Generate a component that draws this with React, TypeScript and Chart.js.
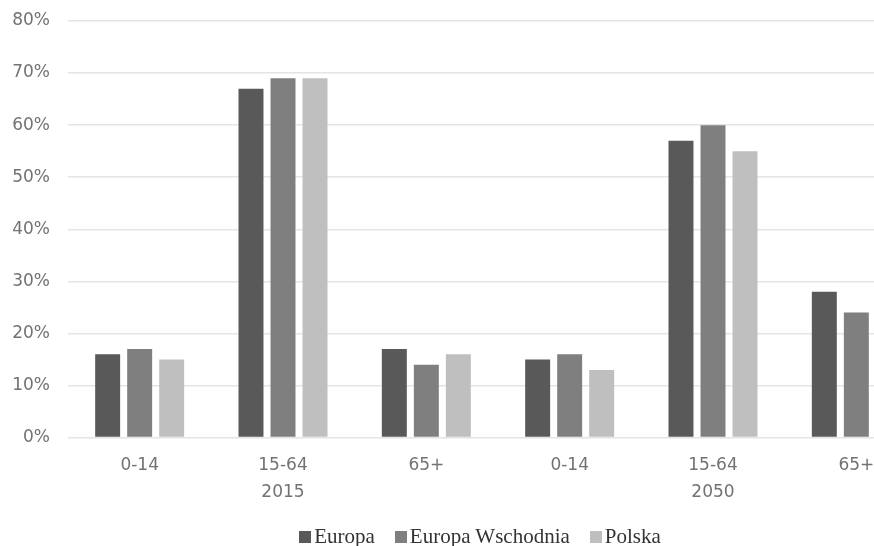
import React, { useEffect, useRef } from "react";
import { Chart, registerables } from "chart.js";

Chart.register(...registerables);

// Age groups for 2015 and 2050 (second line carries the year)
const categories: string[][] = [["0-14"], ["15-64", "2015"], ["65+"], ["0-14"], ["15-64", "2050"], ["65+"]];

// Share of population in each age group, in percent
const europa = [16, 67, 17, 15, 57, 28];
const europaWschodnia = [17, 69, 14, 16, 60, 24];
const polska: (number | null)[] = [15, 69, 16, 13, 55, null];

const seriesNames = ["Europa", "Europa Wschodnia", "Polska"];
const seriesColors = ["#595959", "#7f7f7f", "#bfbfbf"];

const yTicks = [0, 10, 20, 30, 40, 50, 60, 70, 80];

export default function App() {
  const canvasRef = useRef<HTMLCanvasElement | null>(null);

  useEffect(() => {
    if (!canvasRef.current) return;
    document.body.style.margin = "0";
    const chart = new Chart(canvasRef.current, {
      type: "bar",
      data: {
        labels: categories,
        datasets: [
          { label: seriesNames[0], data: europa, backgroundColor: seriesColors[0] },
          { label: seriesNames[1], data: europaWschodnia, backgroundColor: seriesColors[1] },
          { label: seriesNames[2], data: polska, backgroundColor: seriesColors[2] },
        ],
      },
      options: {
        animation: false,
        responsive: false,
        maintainAspectRatio: false,
        layout: { padding: { top: 6, right: 20, left: 0, bottom: 34 } },
        datasets: {
          bar: { categoryPercentage: 0.67, barPercentage: 0.78 },
        },
        plugins: {
          legend: { display: false },
          tooltip: { enabled: false },
        },
        scales: {
          x: {
            grid: { display: false },
            border: { display: false },
            ticks: {
              color: "#727272",
              font: { family: "'DejaVu Sans', sans-serif", size: 17, lineHeight: 1.6 },
              padding: 6,
              maxRotation: 0,
            },
          },
          y: {
            min: 0,
            max: 80,
            afterBuildTicks: (axis: any) => {
              axis.ticks = yTicks.map((v) => ({ value: v }));
            },
            afterFit: (axis: any) => {
              // fixed axis width and top inset for the value labels
              axis.width = 68;
              axis.paddingTop = 21;
            },
            grid: { color: "#e4e4e4", lineWidth: 1.5, drawTicks: false },
            border: { display: false },
            ticks: {
              color: "#727272",
              font: { family: "'DejaVu Sans', sans-serif", size: 17 },
              padding: 18,
              callback: (v: any) => v + "%",
            },
          },
        },
      },
    });
    return () => chart.destroy();
  }, []);

  return (
    <div style={{ position: "fixed", left: 0, top: 0, width: 874, height: 546, overflow: "hidden", background: "#ffffff" }}>
      <canvas ref={canvasRef} width={948} height={546} style={{ display: "block", width: 948, height: 546 }} />
      <div
        style={{
          position: "absolute",
          left: 0,
          width: 960,
          top: 524,
          display: "flex",
          justifyContent: "center",
          gap: 20,
          fontFamily: "'Liberation Serif', 'DejaVu Serif', serif",
          fontSize: 21,
          lineHeight: "24px",
          color: "#333333",
        }}
      >
        {seriesNames.map((name, i) => (
          <div key={name} style={{ display: "flex", alignItems: "baseline" }}>
            <span style={{ display: "inline-block", width: 12, height: 12, background: seriesColors[i], marginRight: 3 }} />
            <span>{name}</span>
          </div>
        ))}
      </div>
    </div>
  );
}
